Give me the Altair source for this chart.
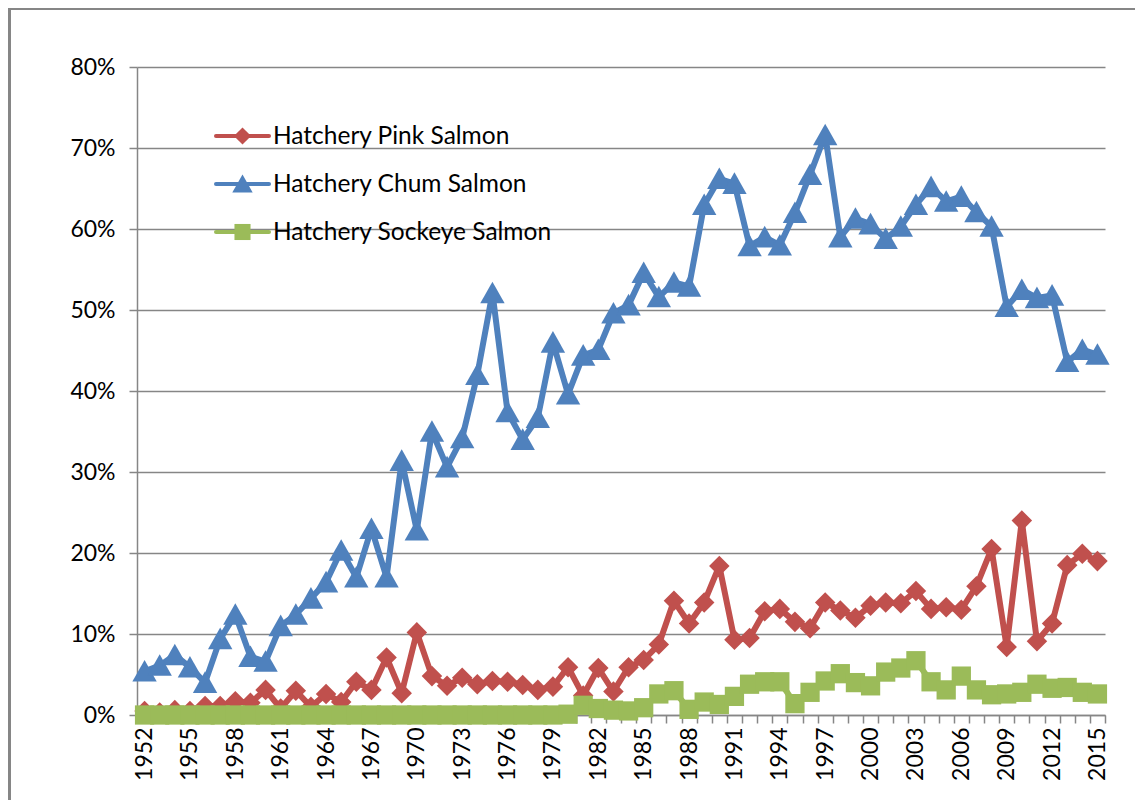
import altair as alt
import pandas as pd

years = list(range(1952, 2016))

pink = [0.5, 0.3, 0.6, 0.5, 1.1, 1.1, 1.7, 1.5, 3.1, 0.8,
        3.0, 1.0, 2.6, 1.6, 4.1, 3.1, 7.1, 2.7, 10.2, 4.8,
        3.6, 4.6, 3.8, 4.2, 4.1, 3.7, 3.1, 3.5, 5.9, 2.4,
        5.8, 2.9, 5.9, 6.8, 8.7, 14.1, 11.3, 13.9, 18.4, 9.3,
        9.5, 12.8, 13.1, 11.5, 10.7, 13.9, 12.9, 12.0, 13.5, 13.9,
        13.8, 15.3, 13.1, 13.3, 13.0, 15.9, 20.5, 8.4, 24.0, 9.1,
        11.3, 18.5, 19.9, 19.0]

chum = [5.4, 6.1, 7.4, 5.9, 4.0, 9.4, 12.4, 7.2, 6.6, 11.0,
        12.4, 14.4, 16.4, 20.3, 17.0, 23.0, 17.0, 31.4, 22.8, 35.0,
        30.6, 34.2, 42.0, 52.1, 37.4, 34.0, 36.7, 46.0, 39.6, 44.4,
        45.1, 49.6, 50.6, 54.6, 51.6, 53.4, 52.9, 63.0, 66.2, 65.6,
        57.9, 59.0, 58.0, 62.0, 66.7, 71.6, 59.0, 61.3, 60.6, 58.8,
        60.3, 63.0, 65.2, 63.4, 64.0, 62.1, 60.3, 50.4, 52.5, 51.5,
        51.8, 43.6, 45.1, 44.5]

sockeye = [0.0, 0.0, 0.0, 0.0, 0.0, 0.0, 0.0, 0.0, 0.0, 0.0,
           0.0, 0.0, 0.0, 0.0, 0.0, 0.0, 0.0, 0.0, 0.0, 0.0,
           0.0, 0.0, 0.0, 0.0, 0.0, 0.0, 0.0, 0.0, 0.1, 1.2,
           0.8, 0.6, 0.5, 0.9, 2.6, 3.0, 0.7, 1.6, 1.3, 2.3,
           3.8, 4.1, 4.1, 1.4, 2.8, 4.2, 5.1, 4.0, 3.6, 5.3,
           5.8, 6.7, 4.1, 3.1, 4.8, 3.1, 2.5, 2.6, 2.8, 3.8,
           3.3, 3.4, 2.8, 2.6]

series_names = ["Hatchery Pink Salmon", "Hatchery Chum Salmon", "Hatchery Sockeye Salmon"]
series_colors = ["#C0504D", "#4F81BD", "#9BBB59"]
series_shapes = [
    "M0,-0.8L0.8,0L0,0.8L-0.8,0Z",
    "M0,-0.88L0.95,0.8L-0.95,0.8Z",
    "M-0.75,-0.75L0.75,-0.75L0.75,0.75L-0.75,0.75Z",
]
y_ticks = [0, 0.1, 0.2, 0.3, 0.4, 0.5, 0.6, 0.7, 0.8]
label_years = years[::3]
tick_bounds = [years[0] - 0.5 + i for i in range(len(years) + 1)]

rows = []
for name, vals in zip(series_names, [pink, chum, sockeye]):
    for yr, v in zip(years, vals):
        rows.append({"year": yr, "value": v / 100.0, "series": name})
df = pd.DataFrame(rows)

FONT = "Lato"
GRAY = "#868686"

xscale = alt.Scale(domain=[years[0] - 0.5, years[-1] + 0.5], nice=False, zero=False)
yscale = alt.Scale(domain=[0, 0.8], nice=False, zero=True)
color_scale = alt.Scale(domain=series_names, range=series_colors)
shape_scale = alt.Scale(domain=series_names, range=series_shapes)


def y_axis():
    return alt.Axis(values=y_ticks, format=".0%", grid=True, gridColor=GRAY,
                    gridWidth=1.3, domain=True, domainColor=GRAY, domainWidth=1.5,
                    tickColor=GRAY, tickSize=8, tickWidth=1.5, labelFont=FONT,
                    labelFontSize=23, labelColor="#000000", labelPadding=14,
                    title=None)


base = alt.Chart(df)

lines = base.mark_line(strokeWidth=6, strokeJoin="round").encode(
    x=alt.X("year:Q", scale=xscale,
            axis=alt.Axis(orient="bottom", values=tick_bounds, labels=False, ticks=True,
                          tickSize=8, tickColor=GRAY, tickWidth=1.5, domain=True,
                          domainColor=GRAY, domainWidth=1.5, grid=False, title=None)),
    y=alt.Y("value:Q", scale=yscale, axis=y_axis()),
    color=alt.Color("series:N", scale=color_scale, legend=None),
    detail="series:N",
)

points = base.mark_point(filled=True, size=660, strokeWidth=0, opacity=1).encode(
    x=alt.X("year:Q", scale=xscale,
            axis=alt.Axis(orient="bottom", values=label_years, format="d", labelAngle=-90,
                          ticks=False, domain=False, grid=False, labelFont=FONT,
                          labelFontSize=23, labelColor="#000000", labelPadding=12,
                          title=None)),
    y=alt.Y("value:Q", scale=yscale, axis=y_axis()),
    color=alt.Color("series:N", scale=color_scale, legend=None),
    shape=alt.Shape("series:N", scale=shape_scale, legend=None),
)

# legend drawn as guide marks (line + marker + label per series)
legend_layers = []
one = alt.Data(values=[{"k": 1}])
for i, (name, col, shp) in enumerate(zip(series_names, series_colors, series_shapes)):
    ly = 69 + 48 * i
    legend_layers.append(alt.Chart(one).mark_rule(color=col, strokeWidth=4, strokeCap="round").encode(
        x=alt.value(79), x2=alt.value(132), y=alt.value(ly)))
    legend_layers.append(alt.Chart(one).mark_point(filled=True, color=col, size=460, strokeWidth=0, opacity=1).encode(
        x=alt.value(105.5), y=alt.value(ly), shape=alt.value(shp)))
    legend_layers.append(alt.Chart(one).mark_text(align="left", baseline="middle", font=FONT,
                                                  fontSize=24.5, color="#000000").encode(
        x=alt.value(136), y=alt.value(ly + 1), text=alt.value(name)))

left_border = alt.Chart(one).mark_rule(color=GRAY, strokeWidth=3).encode(
    x=alt.value(-127.5), y=alt.value(-59), y2=alt.value(740))
top_border = alt.Chart(one).mark_rule(color=GRAY, strokeWidth=2).encode(
    x=alt.value(-129), x2=alt.value(1000), y=alt.value(-58))

chart = alt.layer(lines, points, *legend_layers, left_border, top_border).resolve_axis(
    x="independent"
).properties(
    width=968, height=648,
    autosize=alt.AutoSizeParams(type="none"),
    padding={"left": 129, "top": 59, "right": 30, "bottom": 85},
    background="white",
).configure_view(stroke=None)

chart.save("out.html", embed_options={"renderer": "svg", "actions": False})
